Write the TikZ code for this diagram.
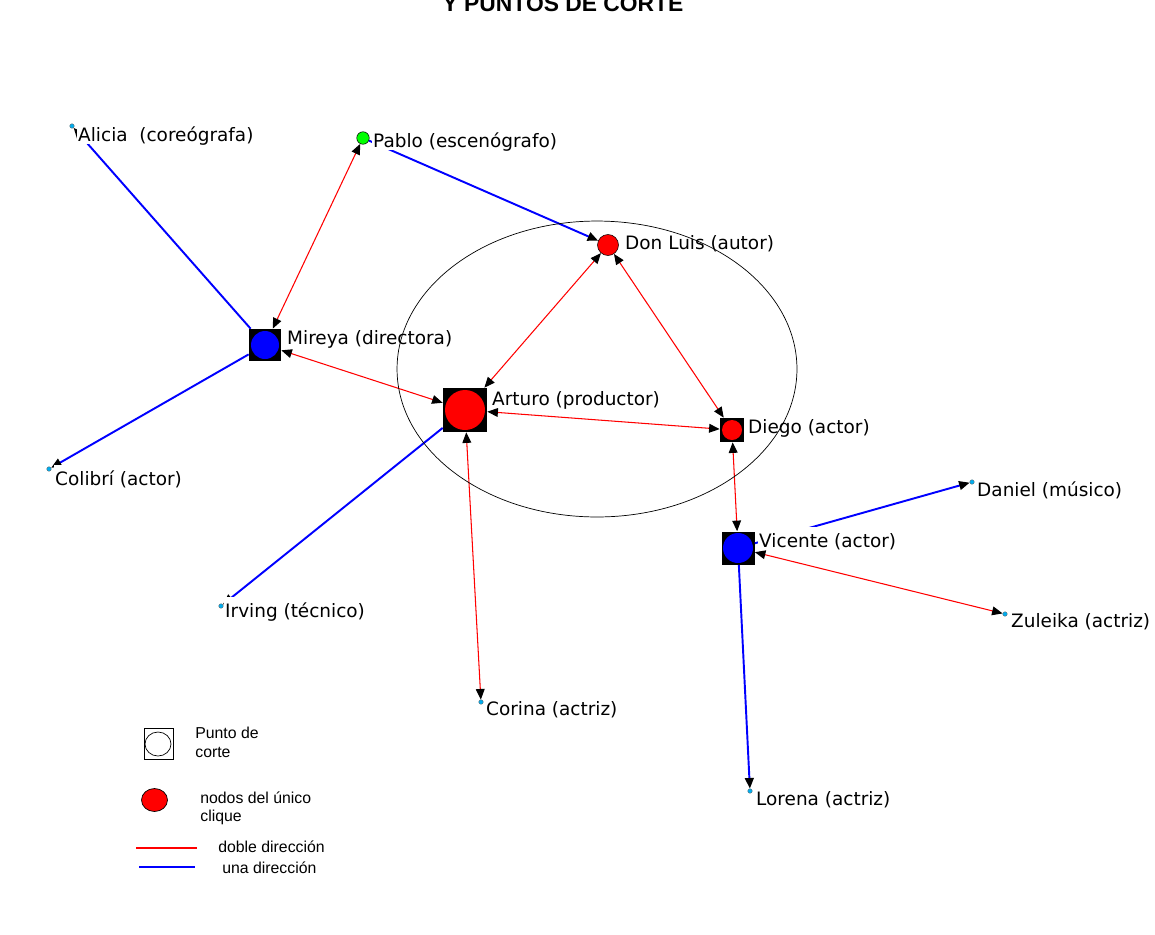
\documentclass[tikz,border=0pt]{standalone}
\usepackage{fontspec}
\setmainfont{DejaVu Sans}
\newfontfamily\arial{Liberation Sans}
\usepackage{tikz}
\usetikzlibrary{arrows.meta, shapes.geometric}
\tikzset{
    corte/.style = {rectangle, fill = black, inner sep = 0pt},
    hoja/.style = {circle, fill = cyan, draw = black!60, line width = 0.2pt, inner sep = 0pt, minimum size = 2.6pt},
    etiqueta/.style = {anchor = base west, fill = white, inner sep = 0.5pt, text height = 1.1em, text depth = 0.1em, font = \fontsize{10.5}{12}\selectfont},
    ley/.style = {anchor = base west, inner sep = 0pt, font = \arial\fontsize{9}{10.5}\selectfont},
    punta/.tip = {Triangle[color = black, length = 6pt, width = 5pt]},
    doble/.style = {red, line width = 0.6pt, punta-punta},
    una/.style = {blue, line width = 1.1pt, -punta}
}

\begin{document}
\begin{tikzpicture}[x = 0.02cm, y = -0.02cm]
    \useasboundingbox (0,0) rectangle (1155,934);
    % Titulo (cortado arriba)
    \node[anchor = base, inner sep = 0pt, font = \arial\bfseries\fontsize{13}{15}\selectfont] (titulo) at (563,11) {Y PUNTOS DE CORTE};
    % Puntos de corte
    \node[corte, minimum size = 0.64cm] (mireya) at (265,345) {};
    \node[corte, minimum size = 0.88cm] (arturo) at (465,410) {};
    \node[corte, minimum size = 0.48cm] (diego) at (732,430) {};
    \node[corte, minimum size = 0.66cm] (vicente) at (738,548) {};
    \fill[blue] (mireya) circle (0.28cm);
    \fill[red] (arturo) circle (0.4cm);
    \fill[red] (diego) circle (0.2cm);
    \fill[blue] (vicente) circle (0.3cm);
    % Otros nodos
    \node[circle, fill = red, draw = black, line width = 0.3pt, inner sep = 0pt, minimum size = 0.42cm] (donluis) at (608,245) {};
    \node[circle, fill = green, draw = black, line width = 0.3pt, inner sep = 0pt, minimum size = 0.25cm] (pablo) at (363,138) {};
    \node[hoja] (alicia) at (72,126) {};
    \node[hoja] (colibri) at (49,469) {};
    \node[hoja] (irving) at (221,606) {};
    \node[hoja] (corina) at (481,702) {};
    \node[hoja] (lorena) at (750,791) {};
    \node[hoja] (daniel) at (972,482) {};
    \node[hoja] (zuleika) at (1005,614) {};
    % Doble direccion
    \draw[doble] (mireya) -- (pablo);
    \draw[doble] (mireya) -- (arturo);
    \draw[doble] (arturo) -- (donluis);
    \draw[doble] (donluis) -- (diego);
    \draw[doble] (arturo) -- (diego);
    \draw[doble] (arturo) -- (corina);
    \draw[doble] (diego) -- (vicente);
    \draw[doble] (vicente) -- (zuleika);
    % Una direccion
    \draw[una] (mireya) -- (alicia);
    \draw[una] (mireya) -- (colibri);
    \draw[una] (arturo) -- (irving);
    \draw[una] (pablo) -- (donluis);
    \draw[una] (vicente) -- (daniel);
    \draw[una] (vicente) -- (lorena);
    % Etiquetas
    \node[etiqueta] (lalicia) at (77,141) {Alicia~~(coreógrafa)};
    \node[etiqueta] (lpablo) at (372,147) {Pablo (escenógrafo)};
    \node[etiqueta] (ldonluis) at (624,249) {Don Luis (autor)};
    \node[etiqueta] (lmireya) at (286,344) {Mireya (directora)};
    \node[etiqueta] (larturo) at (491,405) {Arturo (productor)};
    \node[etiqueta] (ldiego) at (747,433) {Diego (actor)};
    \node[etiqueta] (lcolibri) at (54,485) {Colibrí (actor)};
    \node[etiqueta] (ldaniel) at (976,496) {Daniel (músico)};
    \node[etiqueta] (lvicente) at (758,547) {Vicente (actor)};
    \node[etiqueta] (lirving) at (224,617) {Irving (técnico)};
    \node[etiqueta] (lzuleika) at (1010,627) {Zuleika (actriz)};
    \node[etiqueta] (lcorina) at (485,715) {Corina (actriz)};
    \node[etiqueta] (llorena) at (755,805) {Lorena (actriz)};
    % Elipse del clique
    \draw[line width = 0.4pt] (597,369) ellipse [x radius = 4cm, y radius = 2.96cm];
    % Leyenda
    \draw[line width = 0.4pt] (144,728) rectangle (173,759);
    \draw[line width = 0.4pt] (158,744) ellipse [x radius = 0.26cm, y radius = 0.24cm];
    \node[ley] (lpunto) at (195,738) {Punto de};
    \node[ley] (lcorte) at (195,757) {corte};
    \draw[fill = red, line width = 0.4pt] (154.5,800) ellipse [x radius = 0.26cm, y radius = 0.23cm];
    \node[ley] (lnodos) at (200,803) {nodos del único};
    \node[ley] (lclique) at (200,821) {clique};
    \draw[red, line width = 0.6pt] (136,848) -- (197,848);
    \node[ley] (ldoble) at (218,852) {doble dirección};
    \draw[blue, line width = 0.7pt] (139,867) -- (195,867);
    \node[ley] (luna) at (222,873) {una dirección};
\end{tikzpicture}
\end{document}
